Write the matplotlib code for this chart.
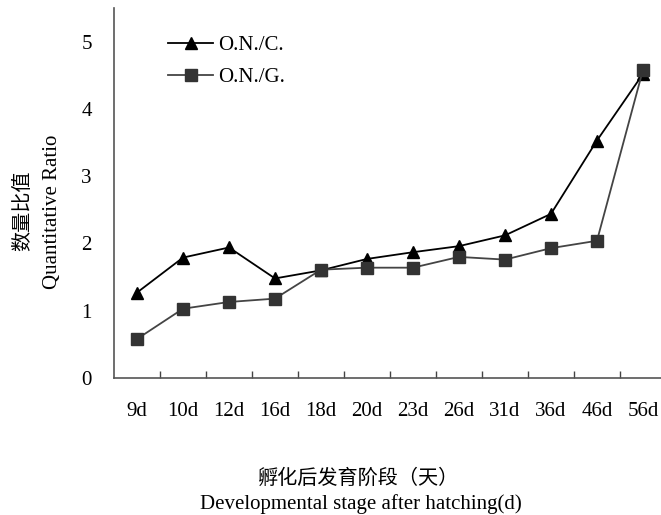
import matplotlib
matplotlib.use("Agg")
import matplotlib.pyplot as plt
from matplotlib.ticker import FixedLocator

plt.rcParams['font.family'] = ['Liberation Serif', 'Noto Sans CJK SC']

stages = ['9d', '10d', '12d', '16d', '18d', '20d', '23d', '26d', '31d', '36d', '46d', '56d']
onc = [1.27, 1.79, 1.94, 1.48, 1.60, 1.77, 1.87, 1.96, 2.12, 2.44, 3.53, 4.52]
ong = [0.58, 1.03, 1.13, 1.18, 1.61, 1.64, 1.64, 1.80, 1.76, 1.93, 2.04, 4.58]
yticks = [0, 1, 2, 3, 4, 5]

fig = plt.figure(figsize=(6.61, 5.15), dpi=100)
ax = fig.add_axes([0.1725, 0.266, 0.835, 0.7185])

x = list(range(len(stages)))
ax.plot(x, onc, color='black', lw=1.3, marker='^', ms=8.5, mfc='black', mec='black',
        label='O.N./C.', zorder=3)
ax.plot(x, ong, color='#444444', lw=1.3, marker='s', ms=8.5, mfc='#333333', mec='#333333',
        label='O.N./G.', zorder=4)

ax.set_xlim(-0.5, len(stages) - 0.5)
ax.set_ylim(0, 5.5)

for s in ('top', 'right'):
    ax.spines[s].set_visible(False)
for s in ('left', 'bottom'):
    ax.spines[s].set_color('#555555')
    ax.spines[s].set_linewidth(1.2)

ax.set_xticks(x)
ax.set_xticklabels(stages, fontsize=15)
ax.xaxis.set_minor_locator(FixedLocator([i + 0.5 for i in range(len(stages) - 1)]))
ax.tick_params(axis='x', which='major', length=0, pad=17.5)
ax.tick_params(axis='x', which='minor', direction='in', length=5, width=1, color='#444444')
ax.set_yticks(yticks)
ax.set_yticklabels([str(v) for v in yticks], fontsize=15)
ax.tick_params(axis='y', length=0, pad=16)

ax.legend(loc='upper left', bbox_to_anchor=(0.098, 0.925), frameon=False, fontsize=15,
          handlelength=2.15, handletextpad=0.25, labelspacing=0.6,
          borderpad=0, borderaxespad=0)

fig.text(0.035, 0.59, '数量比值', rotation=90, ha='center', va='center', fontsize=14.5,
         family=['Noto Sans CJK SC'])
fig.text(0.079, 0.588, 'Quantitative Ratio', rotation=90, ha='center', va='center', fontsize=15)
fig.text(0.543, 0.071, '孵化后发育阶段（天）', ha='center', va='center', fontsize=14.5,
         family=['Noto Sans CJK SC'])
fig.text(0.546, 0.021, 'Developmental stage after hatching(d)', ha='center', va='center',
         fontsize=15)

fig.savefig('out.png', dpi=100)
